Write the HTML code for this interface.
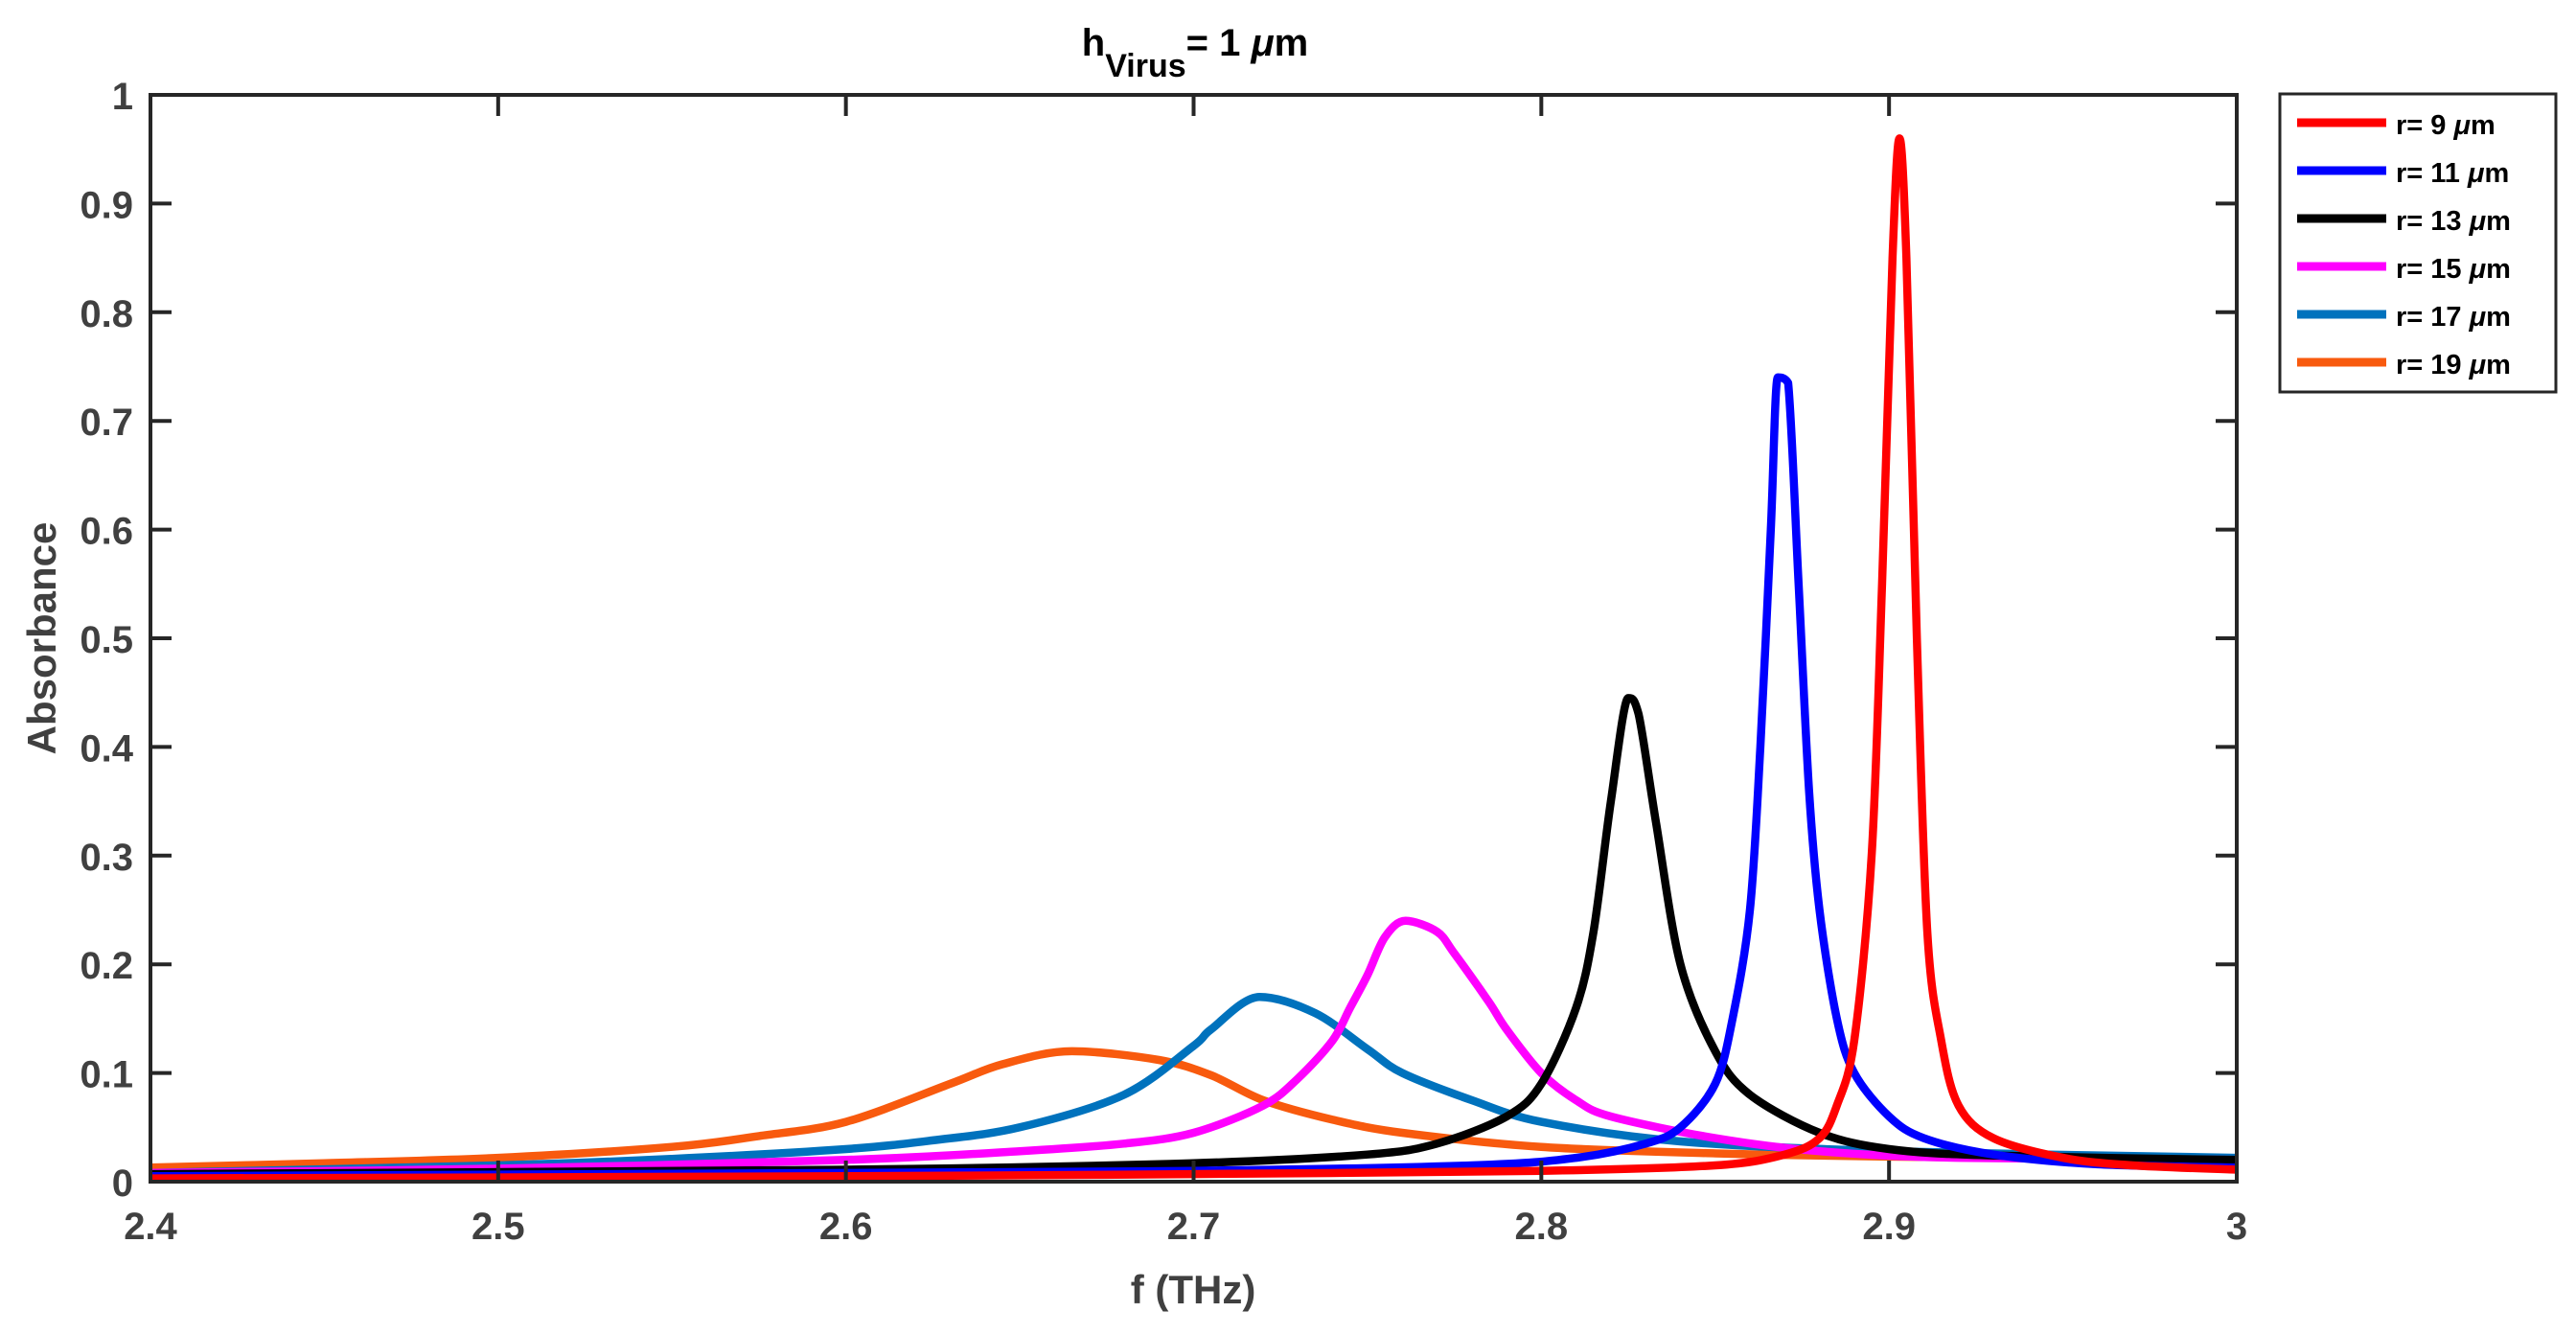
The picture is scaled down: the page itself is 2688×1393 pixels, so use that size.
<!DOCTYPE html>
<html><head><meta charset="utf-8"><style>
html,body{margin:0;padding:0;background:#fff;}
svg{display:block;font-family:"Liberation Sans",Arial,sans-serif;font-weight:bold;}
</style></head><body>
<svg id="chart" width="2688" height="1393" viewBox="0 0 2688 1393">
<g id="plot"></g>
<text x="1247" y="58" text-anchor="middle" font-size="40" fill="#000">h<tspan font-size="34" dy="22">Virus</tspan><tspan dy="-22">= 1 </tspan><tspan font-style="italic">μ</tspan>m</text>
<text x="1245" y="1360" text-anchor="middle" font-size="42" fill="#404040">f (THz)</text>
<text transform="translate(58,666) rotate(-90)" text-anchor="middle" font-size="42" fill="#404040">Absorbance</text>
<g id="legend"></g>
</svg>
<script>
const categories = ["r= 9", "r= 11", "r= 13", "r= 15", "r= 17", "r= 19"];
const colors = ["#ff0000", "#0000ff", "#000000", "#ff00ff", "#0072bd", "#f85a0e"];
const xTicks = [2.4, 2.5, 2.6, 2.7, 2.8, 2.9, 3];
const yTicks = [0, 0.1, 0.2, 0.3, 0.4, 0.5, 0.6, 0.7, 0.8, 0.9, 1];
const xTickLabels = ["2.4","2.5","2.6","2.7","2.8","2.9","3"];
const yTickLabels = ["0","0.1","0.2","0.3","0.4","0.5","0.6","0.7","0.8","0.9","1"];
const r9x = [2.4,2.6,2.7,2.8,2.85,2.87,2.88,2.885,2.89,2.895,2.898,2.901,2.903,2.905,2.908,2.911,2.915,2.92,2.93,2.95,2.97,3.0];
const r9y = [0.003,0.005,0.007,0.01,0.015,0.025,0.04,0.07,0.13,0.3,0.55,0.85,0.96,0.85,0.5,0.23,0.13,0.07,0.04,0.022,0.015,0.011];
const r11x = [2.4,2.6,2.7,2.78,2.81,2.83,2.84,2.85,2.855,2.86,2.863,2.866,2.868,2.871,2.874,2.877,2.88,2.885,2.89,2.9,2.91,2.93,2.96,3.0];
const r11y = [0.005,0.008,0.01,0.015,0.022,0.035,0.05,0.09,0.15,0.25,0.4,0.6,0.74,0.735,0.55,0.36,0.25,0.15,0.1,0.06,0.04,0.025,0.016,0.013];
const r13x = [2.4,2.6,2.7,2.75,2.77,2.79,2.8,2.81,2.815,2.82,2.825,2.828,2.833,2.84,2.85,2.86,2.88,2.9,2.93,3.0];
const r13y = [0.007,0.011,0.017,0.025,0.035,0.06,0.09,0.16,0.23,0.35,0.445,0.43,0.33,0.2,0.12,0.08,0.045,0.03,0.024,0.02];
const r15x = [2.4,2.5,2.6,2.65,2.68,2.7,2.72,2.73,2.74,2.745,2.75,2.755,2.761,2.77,2.775,2.785,2.79,2.8,2.81,2.82,2.85,2.88,2.92,3.0];
const r15y = [0.008,0.012,0.02,0.028,0.035,0.045,0.07,0.095,0.13,0.16,0.19,0.225,0.24,0.23,0.21,0.165,0.14,0.1,0.075,0.06,0.04,0.028,0.022,0.02];
const r17x = [2.4,2.5,2.55,2.6,2.625,2.65,2.68,2.7,2.705,2.719,2.735,2.75,2.76,2.78,2.8,2.84,2.9,3.0];
const r17y = [0.008,0.015,0.021,0.03,0.038,0.05,0.08,0.125,0.14,0.17,0.155,0.122,0.1,0.075,0.055,0.037,0.028,0.022];
const r19x = [2.4,2.45,2.5,2.55,2.575,2.6,2.63,2.645,2.665,2.69,2.705,2.72,2.74,2.76,2.8,2.85,2.9,3.0];
const r19y = [0.013,0.017,0.022,0.032,0.042,0.055,0.09,0.108,0.12,0.112,0.098,0.075,0.057,0.045,0.032,0.026,0.023,0.02];
const seriesX = [r9x, r11x, r13x, r15x, r17x, r19x];
const seriesY = [r9y, r11y, r13y, r15y, r17y, r19y];

const NS = "http://www.w3.org/2000/svg";
const L = 157, R = 2334, T = 99, B = 1233;
const xs = v => L + (v - 2.4) / 0.6 * (R - L);
const ys = v => B - v * (B - T);
const plot = document.getElementById('plot');
function mk(tag, attrs, parent) {
  const e = document.createElementNS(NS, tag);
  for (const k in attrs) e.setAttribute(k, attrs[k]);
  parent.appendChild(e);
  return e;
}
function isExt(P, i) {
  if (i <= 0 || i >= P.length - 1) return false;
  const a = P[i - 1][1], b = P[i][1], c = P[i + 1][1];
  return (b <= a && b <= c) || (b >= a && b >= c);
}
function smoothPath(P) {
  let d = 'M' + P[0][0].toFixed(1) + ',' + P[0][1].toFixed(1);
  for (let i = 0; i < P.length - 1; i++) {
    const p0 = P[Math.max(0, i - 1)], p1 = P[i], p2 = P[i + 1], p3 = P[Math.min(P.length - 1, i + 2)];
    const t = 0.16;
    let c1x = p1[0] + (p2[0] - p0[0]) * t, c1y = p1[1] + (p2[1] - p0[1]) * t;
    let c2x = p2[0] - (p3[0] - p1[0]) * t, c2y = p2[1] - (p3[1] - p1[1]) * t;
    c1x = Math.min(Math.max(c1x, p1[0]), p2[0]);
    c2x = Math.min(Math.max(c2x, p1[0]), p2[0]);
    if (isExt(P, i)) c1y = p1[1];
    if (isExt(P, i + 1)) c2y = p2[1];
    const lo = Math.min(p1[1], p2[1]), hi = Math.max(p1[1], p2[1]);
    c1y = Math.min(Math.max(c1y, lo), hi);
    c2y = Math.min(Math.max(c2y, lo), hi);
    d += ' C' + c1x.toFixed(1) + ',' + c1y.toFixed(1) + ' ' + c2x.toFixed(1) + ',' + c2y.toFixed(1) + ' ' + p2[0].toFixed(1) + ',' + p2[1].toFixed(1);
  }
  return d;
}
const clip = mk('clipPath', {id: 'pc'}, plot);
mk('rect', {x: L, y: T, width: R - L, height: B - T}, clip);
const lines = mk('g', {'clip-path': 'url(#pc)'}, plot);
for (let i = seriesX.length - 1; i >= 0; i--) {
  const P = seriesX[i].map((x, j) => [xs(x), ys(seriesY[i][j])]);
  const pl = mk('path', {d: smoothPath(P), fill: 'none', stroke: colors[i], 'stroke-width': 8.5, 'stroke-linejoin': 'round', 'stroke-linecap': 'round'}, lines);
  
  
}
const box = mk('rect', {x: L, y: T, width: R - L, height: B - T, fill: 'none', stroke: '#262626', 'stroke-width': 4}, plot);


xTicks.forEach((v, i) => {
  const x = xs(v);
  mk('line', {x1: x, x2: x, y1: B, y2: B - 22, stroke: '#262626', 'stroke-width': 4}, plot);
  mk('line', {x1: x, x2: x, y1: T, y2: T + 22, stroke: '#262626', 'stroke-width': 4}, plot);
  const t = mk('text', {x: x, y: 1293, 'text-anchor': 'middle', 'font-size': 40, fill: '#404040'}, plot);
  t.textContent = xTickLabels[i];
  
  
});
yTicks.forEach((v, i) => {
  const y = ys(v);
  mk('line', {x1: L, x2: L + 22, y1: y, y2: y, stroke: '#262626', 'stroke-width': 4}, plot);
  mk('line', {x1: R, x2: R - 22, y1: y, y2: y, stroke: '#262626', 'stroke-width': 4}, plot);
  const t = mk('text', {x: 139, y: y + 15, 'text-anchor': 'end', 'font-size': 40, fill: '#404040'}, plot);
  t.textContent = yTickLabels[i];
  
  
});
const leg = document.getElementById('legend');
mk('rect', {x: 2379, y: 98, width: 288, height: 311, fill: '#fff', stroke: '#262626', 'stroke-width': 3}, leg);
categories.forEach((c, i) => {
  const y = 128 + i * 50;
  const g = mk('g', {}, leg);
  
  
  mk('line', {x1: 2397, x2: 2490, y1: y, y2: y, stroke: colors[i], 'stroke-width': 9}, g);
  const t = mk('text', {x: 2500, y: y + 12, 'font-size': 29, fill: '#000'}, g);
  t.textContent = c + ' ';
  const mu = mk('tspan', {'font-style': 'italic'}, t);
  mu.textContent = 'μ';
  const m = mk('tspan', {}, t);
  m.textContent = 'm';
});
</script>
</body></html>
